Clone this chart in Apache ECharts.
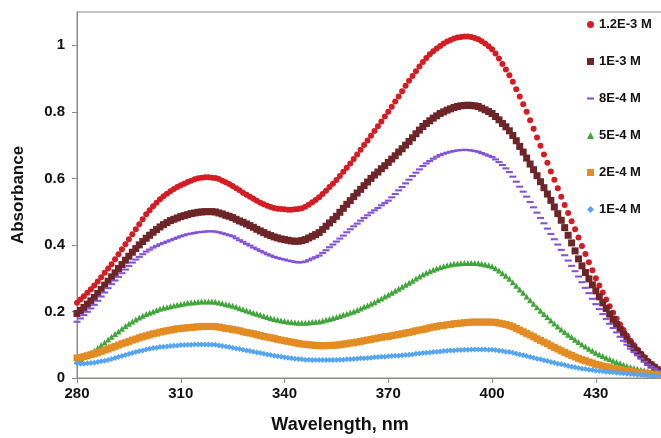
<!DOCTYPE html>
<html>
<head>
<meta charset="utf-8">
<script src="https://cdn.jsdelivr.net/npm/echarts@6/dist/echarts.min.js"></script>
<style>
  html, body { margin: 0; padding: 0; background: #fff; }
  #main { width: 661px; height: 438px; }
</style>
</head>
<body>
<div id="main"></div>
<script>
// wavelength grid, nm
var wavelengths = [
  280,281,282,283,284,285,286,287,288,289,290,291,292,293,294,295,296,297,298,299,
  300,301,302,303,304,305,306,307,308,309,310,311,312,313,314,315,316,317,318,319,
  320,321,322,323,324,325,326,327,328,329,330,331,332,333,334,335,336,337,338,339,
  340,341,342,343,344,345,346,347,348,349,350,351,352,353,354,355,356,357,358,359,
  360,361,362,363,364,365,366,367,368,369,370,371,372,373,374,375,376,377,378,379,
  380,381,382,383,384,385,386,387,388,389,390,391,392,393,394,395,396,397,398,399,
  400,401,402,403,404,405,406,407,408,409,410,411,412,413,414,415,416,417,418,419,
  420,421,422,423,424,425,426,427,428,429,430,431,432,433,434,435,436,437,438,439,
  440,441,442,443,444,445,446,447,448,449,450
];

// absorbance per concentration
var abs12e3 = [
  .226,.236,.246,.256,.267,.278,.290,.303,.316,.329,.342,.357,.372,.387,.402,.417,.432,.447,.462,.477,
  .492,.504,.516,.527,.537,.546,.554,.561,.568,.574,.579,.584,.589,.593,.597,.600,.602,.603,.603,.602,
  .601,.598,.593,.588,.583,.577,.570,.564,.557,.551,.545,.539,.533,.527,.522,.518,.514,.511,.509,.508,
  .507,.506,.506,.507,.508,.510,.515,.521,.528,.535,.543,.553,.563,.574,.584,.595,.607,.620,.632,.645,
  .658,.672,.686,.700,.714,.728,.742,.757,.771,.786,.800,.815,.831,.846,.862,.878,.893,.908,.922,.936,
  .950,.962,.973,.982,.990,.998,1.005,1.011,1.016,1.020,1.023,1.025,1.026,1.026,1.025,1.022,1.018,1.012,1.005,.997,
  .988,.975,.960,.944,.927,.910,.890,.868,.846,.823,.800,.775,.749,.723,.698,.672,.647,.621,.596,.570,
  .545,.520,.496,.471,.447,.422,.397,.373,.348,.324,.300,.278,.257,.236,.216,.196,.178,.161,.144,.128,
  .112,.099,.086,.074,.063,.052,.043,.035,.027,.019,.012
];
var abs1e3 = [
  .194,.203,.212,.222,.232,.242,.254,.266,.279,.291,.304,.316,.329,.341,.354,.366,.378,.389,.400,.410,
  .420,.429,.438,.446,.454,.461,.467,.473,.477,.481,.485,.488,.491,.494,.496,.498,.499,.500,.500,.500,
  .499,.496,.493,.489,.486,.482,.477,.472,.468,.463,.458,.453,.447,.442,.437,.432,.428,.424,.421,.418,
  .416,.414,.412,.411,.411,.413,.416,.421,.426,.431,.437,.446,.456,.466,.476,.486,.498,.510,.522,.533,
  .545,.556,.567,.578,.589,.600,.610,.619,.629,.638,.648,.658,.668,.679,.689,.700,.711,.722,.734,.745,
  .756,.765,.773,.781,.788,.795,.800,.805,.809,.813,.816,.818,.819,.820,.819,.818,.816,.811,.806,.801,
  .795,.786,.776,.765,.755,.743,.729,.713,.696,.679,.661,.643,.626,.608,.590,.572,.553,.534,.514,.494,
  .474,.452,.429,.406,.382,.358,.337,.317,.298,.280,.262,.244,.226,.209,.192,.176,.161,.146,.131,.117,
  .103,.091,.080,.069,.058,.047,.039,.031,.024,.018,.012
];
var abs8e4 = [
  .169,.179,.189,.199,.209,.220,.232,.245,.257,.270,.282,.293,.304,.315,.326,.337,.347,.356,.364,.372,
  .380,.386,.392,.397,.402,.406,.410,.414,.418,.422,.426,.429,.432,.434,.436,.438,.439,.440,.441,.441,
  .440,.438,.435,.432,.429,.426,.420,.414,.409,.403,.398,.392,.387,.382,.377,.372,.368,.364,.361,.358,
  .356,.353,.351,.349,.347,.348,.350,.354,.359,.363,.368,.376,.384,.393,.401,.410,.419,.428,.438,.447,
  .456,.464,.473,.481,.489,.497,.504,.511,.519,.526,.533,.543,.553,.564,.574,.585,.596,.607,.617,.627,
  .637,.645,.652,.659,.665,.670,.674,.677,.680,.682,.684,.685,.686,.685,.684,.682,.680,.676,.672,.668,
  .664,.657,.649,.640,.630,.619,.605,.590,.575,.560,.545,.529,.513,.497,.481,.465,.449,.433,.417,.401,
  .385,.369,.353,.337,.321,.305,.288,.271,.255,.238,.222,.207,.192,.177,.163,.150,.137,.124,.112,.100,
  .088,.078,.068,.058,.049,.041,.034,.028,.022,.017,.012
];
var abs5e4 = [
  .052,.057,.063,.069,.075,.082,.090,.099,.107,.116,.124,.132,.140,.148,.156,.163,.170,.176,.182,.187,
  .192,.196,.200,.204,.208,.211,.213,.216,.218,.220,.222,.224,.226,.227,.228,.229,.230,.230,.230,.230,
  .229,.227,.225,.222,.220,.217,.214,.210,.207,.203,.200,.196,.193,.190,.186,.183,.180,.177,.175,.173,
  .171,.169,.168,.167,.166,.166,.166,.167,.168,.169,.170,.172,.175,.177,.180,.183,.186,.190,.193,.197,
  .200,.204,.209,.214,.218,.223,.228,.234,.239,.245,.250,.256,.262,.268,.274,.280,.286,.292,.299,.305,
  .311,.316,.321,.325,.329,.333,.336,.339,.341,.343,.344,.345,.346,.346,.346,.346,.345,.343,.341,.339,
  .336,.330,.323,.315,.307,.298,.288,.277,.266,.256,.245,.234,.223,.213,.202,.192,.183,.173,.164,.155,
  .146,.138,.130,.123,.115,.108,.101,.095,.088,.082,.076,.071,.066,.061,.057,.052,.048,.044,.040,.036,
  .033,.030,.028,.025,.023,.020,.018,.016,.014,.012,.010
];
var abs2e4 = [
  .060,.062,.064,.067,.070,.073,.076,.080,.084,.087,.091,.095,.099,.103,.106,.110,.114,.117,.121,.124,
  .127,.130,.133,.135,.138,.140,.142,.144,.146,.148,.149,.150,.151,.152,.153,.154,.155,.155,.155,.155,
  .155,.153,.151,.149,.148,.146,.144,.142,.139,.137,.135,.133,.130,.128,.125,.123,.121,.119,.116,.114,
  .112,.110,.108,.106,.104,.102,.101,.100,.099,.098,.097,.097,.097,.098,.098,.099,.100,.102,.103,.105,
  .106,.108,.110,.112,.114,.116,.118,.120,.122,.124,.125,.127,.129,.131,.133,.135,.137,.139,.142,.144,
  .146,.148,.151,.153,.155,.157,.158,.160,.161,.163,.164,.165,.166,.167,.168,.168,.168,.168,.168,.168,
  .168,.167,.165,.163,.161,.158,.154,.149,.144,.139,.134,.129,.124,.118,.113,.108,.103,.097,.092,.087,
  .082,.077,.072,.068,.063,.059,.055,.052,.048,.045,.041,.039,.036,.034,.031,.029,.027,.025,.023,.022,
  .020,.018,.017,.016,.014,.013,.012,.011,.009,.008,.007
];
var abs1e4 = [
  .044,.043,.043,.044,.045,.046,.048,.050,.052,.054,.057,.060,.063,.066,.069,.072,.075,.078,.081,.083,
  .086,.088,.090,.091,.093,.094,.095,.096,.097,.098,.099,.099,.100,.100,.101,.101,.101,.101,.101,.100,
  .100,.098,.096,.095,.093,.091,.089,.087,.085,.083,.081,.079,.077,.075,.073,.071,.069,.067,.065,.064,
  .062,.061,.059,.058,.057,.056,.055,.055,.054,.054,.054,.054,.054,.054,.054,.054,.055,.055,.056,.056,
  .057,.058,.059,.059,.060,.061,.062,.063,.064,.064,.065,.066,.067,.067,.068,.069,.070,.071,.073,.074,
  .075,.076,.077,.078,.079,.080,.081,.082,.083,.083,.084,.084,.085,.085,.086,.086,.086,.086,.086,.085,
  .085,.084,.082,.081,.079,.078,.076,.073,.071,.068,.066,.063,.061,.058,.056,.053,.051,.048,.046,.043,
  .041,.039,.036,.034,.032,.030,.028,.027,.025,.024,.022,.021,.020,.019,.018,.017,.016,.015,.014,.013,
  .012,.011,.010,.010,.009,.008,.007,.006,.005,.005,.004
];

var seriesNames = ['1.2E-3 M', '1E-3 M', '8E-4 M', '5E-4 M', '2E-4 M', '1E-4 M'];
var xTicks = [280, 310, 340, 370, 400, 430];
var yTicks = [0, 0.2, 0.4, 0.6, 0.8, 1];

// short horizontal dash, padded so it keeps its shape when scaled
var dashPath = 'path://M0,0M0,3.5L10,3.5L10,6.5L0,6.5ZM10,10';

function pairs(vals) {
    return vals.map(function (v, i) { return [wavelengths[i], v]; });
}

function mk(name, vals, symbol, size, color) {
    return {
        name: name,
        type: 'scatter',
        data: pairs(vals),
        symbol: symbol,
        symbolSize: size,
        clip: false,
        itemStyle: { color: color, opacity: 1 },
        emphasis: { disabled: true }
    };
}

var axisGrey = '#8c8c84';
var labelFont = { color: '#111', fontFamily: 'Liberation Sans, Arial, sans-serif', fontWeight: 'bold' };

var option = {
    animation: false,
    grid: {
        // plot runs a little past the right edge of the picture
        left: 77, top: 12, height: 366, width: 588,
        outerBoundsMode: 'none',
        show: true, borderColor: axisGrey, borderWidth: 1, backgroundColor: 'transparent'
    },
    legend: {
        orient: 'vertical',
        left: 587, top: 18,
        padding: 0,
        itemWidth: 7, itemHeight: 7, itemGap: 24,
        data: seriesNames,
        textStyle: Object.assign({ fontSize: 13 }, labelFont)
    },
    xAxis: {
        type: 'value',
        min: 280, max: 450, interval: 30,
        name: 'Wavelength, nm',
        nameLocation: 'middle',
        nameGap: 38,
        nameTextStyle: Object.assign({ fontSize: 18, padding: [0, 62, 0, 0] }, labelFont),
        axisLine: { lineStyle: { color: axisGrey, width: 1 } },
        axisTick: { show: true, length: 5, lineStyle: { color: axisGrey }, customValues: xTicks },
        axisLabel: Object.assign({ fontSize: 15, margin: 8, customValues: xTicks }, labelFont),
        splitLine: { show: false }
    },
    yAxis: {
        type: 'value',
        min: 0, max: 1.1, interval: 0.2,
        name: 'Absorbance',
        nameLocation: 'middle',
        nameGap: 50,
        nameTextStyle: Object.assign({ fontSize: 17 }, labelFont),
        axisLine: { show: true, lineStyle: { color: axisGrey, width: 1 } },
        axisTick: { show: true, length: 5, lineStyle: { color: axisGrey }, customValues: yTicks },
        axisLabel: Object.assign({ fontSize: 15, margin: 12, customValues: yTicks }, labelFont),
        splitLine: { show: false }
    },
    series: [
        mk(seriesNames[0], abs12e3, 'circle', 6, '#d41c22'),
        mk(seriesNames[1], abs1e3, 'rect', 7, '#6e2528'),
        mk(seriesNames[2], abs8e4, dashPath, 7, '#8452d8'),
        mk(seriesNames[3], abs5e4, 'triangle', 6, '#40a63a'),
        mk(seriesNames[4], abs2e4, 'rect', 7, '#e38c24'),
        mk(seriesNames[5], abs1e4, 'diamond', 6, '#55a6ee')
    ]
};

var chart = echarts.init(document.getElementById('main'));
chart.setOption(option);
</script>
</body>
</html>
